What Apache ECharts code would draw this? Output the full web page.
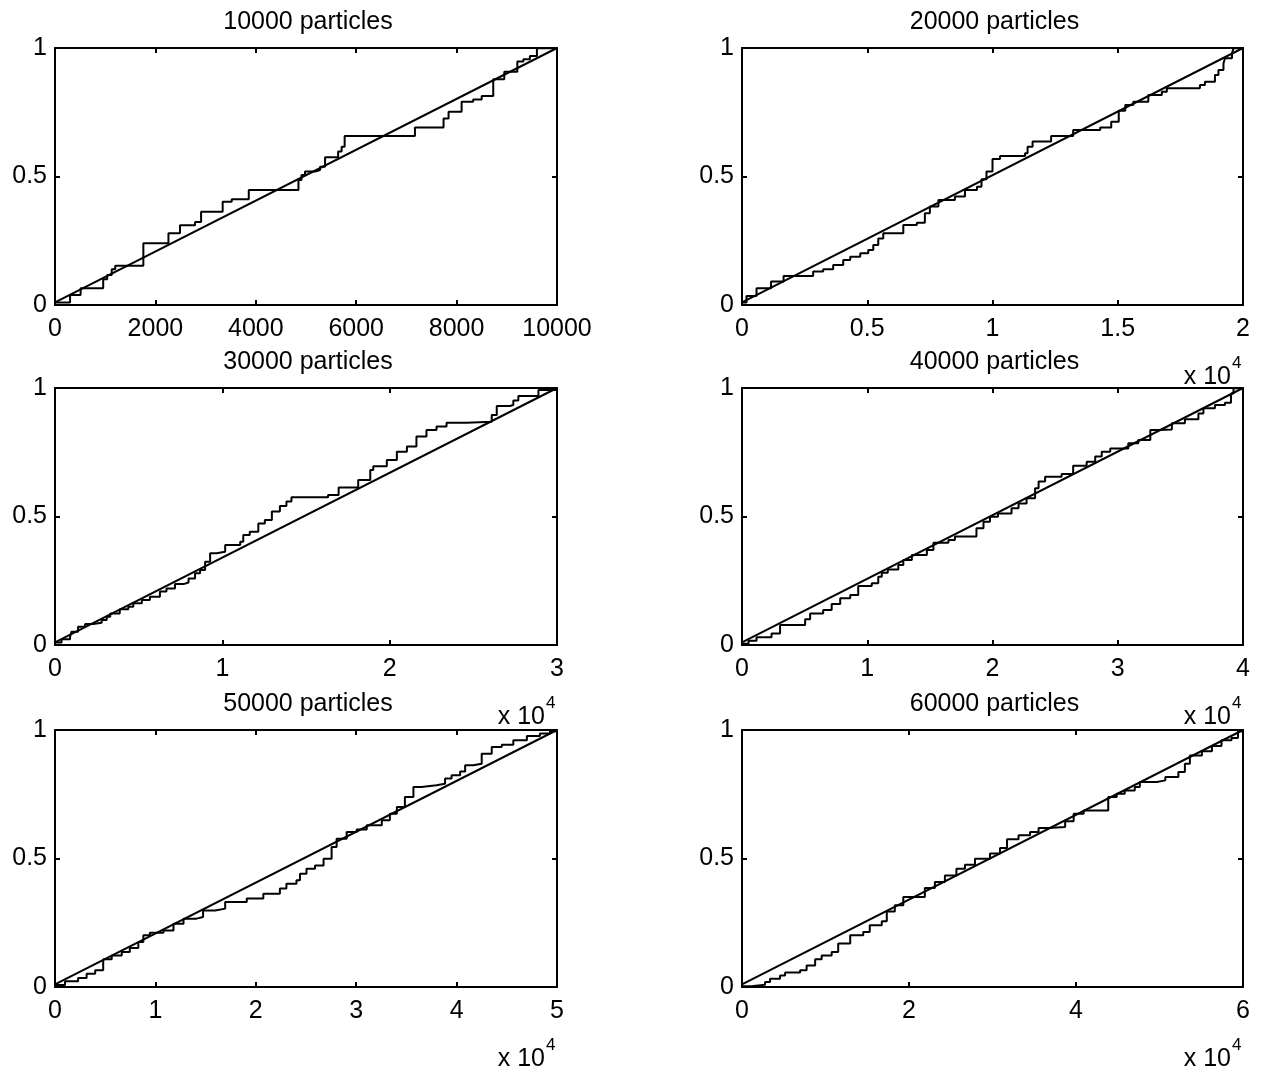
<!DOCTYPE html>
<html>
<head>
<meta charset="utf-8">
<script src="https://cdn.jsdelivr.net/npm/echarts@6/dist/echarts.min.js"></script>
<style>
html,body{margin:0;padding:0;background:#fff;}
#chart{width:1266px;height:1079px;}
</style>
</head>
<body>
<div id="chart"></div>
<script>
// ---- data ----
const panelN = [10000, 20000, 30000, 40000, 50000, 60000];
const titles = ['10000 particles', '20000 particles', '30000 particles', '40000 particles', '50000 particles', '60000 particles'];
const xTickStep = [2000, 5000, 10000, 10000, 10000, 20000];
const xLabelDivisor = [1, 10000, 10000, 10000, 10000, 10000];
const yTicks = [0, 0.5, 1];
const diagStartY = 0.01;

const p1X = [0, 300, 510, 960, 1040, 1130, 1200, 1760, 2260, 2490, 2790, 2910, 3340, 3520, 3860, 4850, 4910, 4980, 5180, 5280, 5380, 5640, 5710, 5770, 7170, 7740, 7840, 8100, 8330, 8500, 8730, 8950, 9210, 9330, 9460, 9600, 10000];
const p1Y = [0.01, 0.039, 0.065, 0.100, 0.117, 0.139, 0.153, 0.240, 0.279, 0.310, 0.323, 0.363, 0.402, 0.411, 0.447, 0.486, 0.506, 0.519, 0.525, 0.538, 0.575, 0.597, 0.616, 0.658, 0.691, 0.726, 0.752, 0.791, 0.800, 0.813, 0.878, 0.908, 0.947, 0.956, 0.969, 0.999, 1.0];

const p2X = [0, 180, 580, 1160, 1660, 2840, 3240, 3640, 4040, 4320, 4720, 5040, 5240, 5440, 5640, 6440, 6980, 7300, 7500, 7840, 8500, 8900, 9380, 9560, 9760, 10000, 10300, 11300, 11400, 11600, 12340, 13220, 14300, 14740, 15040, 15300, 15620, 16220, 16760, 16960, 18280, 18480, 18880, 19020, 19220, 19280, 19560, 19620, 20000];
const p2Y = [0.01, 0.035, 0.065, 0.091, 0.113, 0.130, 0.139, 0.156, 0.175, 0.188, 0.201, 0.214, 0.233, 0.259, 0.279, 0.311, 0.320, 0.357, 0.383, 0.409, 0.422, 0.447, 0.460, 0.489, 0.519, 0.568, 0.580, 0.590, 0.616, 0.636, 0.658, 0.681, 0.691, 0.713, 0.756, 0.778, 0.791, 0.817, 0.830, 0.843, 0.856, 0.869, 0.895, 0.914, 0.940, 0.960, 0.979, 0.999, 1.0];

const p3X = [0, 390, 900, 990, 1380, 1800, 2280, 2790, 3090, 3300, 3870, 4380, 4680, 5190, 5670, 6270, 6660, 7170, 7680, 7980, 8370, 8670, 8970, 9270, 9660, 10170, 11070, 11250, 11640, 12150, 12540, 12960, 13440, 13830, 14130, 16320, 16950, 18120, 18840, 19020, 19830, 20430, 21030, 21600, 22200, 22800, 23400, 24600, 26100, 26400, 27180, 27390, 27690, 28890, 30000];
const p3Y = [0.01, 0.022, 0.032, 0.052, 0.071, 0.082, 0.087, 0.097, 0.110, 0.123, 0.139, 0.149, 0.162, 0.175, 0.188, 0.208, 0.220, 0.237, 0.243, 0.259, 0.279, 0.292, 0.324, 0.357, 0.363, 0.389, 0.402, 0.428, 0.441, 0.473, 0.486, 0.519, 0.541, 0.558, 0.575, 0.584, 0.613, 0.642, 0.681, 0.696, 0.720, 0.752, 0.772, 0.811, 0.837, 0.850, 0.865, 0.869, 0.895, 0.930, 0.934, 0.951, 0.969, 0.992, 1.0];

const p4X = [0, 520, 1160, 2360, 3040, 5040, 5440, 6480, 7160, 7840, 8640, 9280, 10360, 10880, 11160, 11640, 12480, 12880, 13560, 14760, 15280, 16480, 17000, 18720, 19280, 19800, 20440, 21520, 22080, 22720, 23400, 23680, 24200, 25520, 26440, 27520, 28200, 28720, 29400, 30840, 31640, 32600, 33240, 34320, 35360, 36440, 36840, 37760, 38560, 39040, 39240, 40000];
const p4Y = [0.005, 0.017, 0.030, 0.045, 0.078, 0.100, 0.123, 0.136, 0.160, 0.182, 0.195, 0.230, 0.240, 0.266, 0.281, 0.294, 0.311, 0.331, 0.350, 0.370, 0.398, 0.409, 0.422, 0.454, 0.480, 0.499, 0.512, 0.532, 0.551, 0.571, 0.610, 0.636, 0.655, 0.665, 0.697, 0.713, 0.733, 0.752, 0.765, 0.785, 0.798, 0.837, 0.839, 0.863, 0.878, 0.901, 0.921, 0.934, 0.943, 0.979, 0.999, 1.0];

const p5X = [0, 1000, 2300, 3150, 4000, 4800, 5650, 6650, 7450, 8300, 8800, 9450, 10800, 11800, 12800, 14100, 14750, 15950, 16950, 19100, 20750, 22400, 23050, 24050, 24400, 25050, 25900, 26750, 27550, 28050, 29050, 30050, 31050, 32550, 33350, 34050, 34850, 35700, 36500, 38000, 38850, 39500, 40350, 40850, 41650, 42500, 43500, 44500, 45650, 47000, 48300, 49300, 50000];
const p5Y = [0.008, 0.022, 0.035, 0.052, 0.065, 0.108, 0.123, 0.136, 0.152, 0.175, 0.201, 0.211, 0.220, 0.246, 0.266, 0.272, 0.298, 0.305, 0.331, 0.344, 0.363, 0.383, 0.402, 0.415, 0.441, 0.460, 0.473, 0.499, 0.545, 0.577, 0.603, 0.613, 0.629, 0.649, 0.674, 0.700, 0.739, 0.778, 0.785, 0.791, 0.811, 0.824, 0.839, 0.863, 0.869, 0.908, 0.934, 0.943, 0.960, 0.977, 0.986, 0.995, 1.0];

const p6X = [0, 1140, 2760, 3360, 4560, 5160, 6960, 7740, 8760, 9540, 10740, 11520, 12960, 14520, 15300, 16740, 17340, 18300, 19320, 21900, 23100, 24300, 25680, 26700, 27900, 29700, 30900, 31740, 33120, 34500, 35520, 36720, 38700, 39720, 40920, 43860, 44880, 45840, 47040, 47640, 49680, 50700, 52260, 53040, 53640, 55080, 56280, 57420, 58620, 59400, 60000];
const p6Y = [0.003, 0.009, 0.019, 0.032, 0.045, 0.056, 0.065, 0.084, 0.108, 0.123, 0.136, 0.169, 0.201, 0.214, 0.240, 0.256, 0.294, 0.318, 0.350, 0.385, 0.409, 0.434, 0.460, 0.476, 0.499, 0.519, 0.541, 0.575, 0.590, 0.603, 0.619, 0.623, 0.645, 0.674, 0.687, 0.739, 0.752, 0.765, 0.778, 0.798, 0.804, 0.817, 0.837, 0.869, 0.901, 0.917, 0.938, 0.960, 0.969, 0.995, 1.0];

const stepX = [p1X, p2X, p3X, p4X, p5X, p6X];
const stepY = [p1Y, p2Y, p3Y, p4Y, p5Y, p6Y];

// ---- layout ----
const FONT = 'Liberation Sans, Arial, Helvetica, sans-serif';
const FS = 25;
const colLeft = [55, 742];
const colWidth = [502, 501];
const rowTop = [48, 388, 730];
const rowHeight = 257;

const grids = [], xAxes = [], yAxes = [], series = [], titleList = [], graphics = [];
const axisLineStyle = {color: '#000', width: 2};

for (let i = 0; i < 6; i++) {
  const c = i % 2, r = Math.floor(i / 2);
  grids.push({left: colLeft[c], top: rowTop[r], width: colWidth[c], height: rowHeight, containLabel: false});
  titleList.push({
    text: titles[i],
    left: colLeft[c] + colWidth[c] / 2 - 3,
    top: rowTop[r] - 43,
    textAlign: 'center',
    textStyle: {fontFamily: FONT, fontSize: FS, fontWeight: 'normal', color: '#000'}
  });
}
for (let i = 0; i < 6; i++) {
  const div = xLabelDivisor[i];
  xAxes.push({
    type: 'value', gridIndex: i, position: 'bottom', min: 0, max: panelN[i], interval: xTickStep[i],
    axisLine: {show: true, onZero: false, lineStyle: axisLineStyle},
    axisTick: {show: true, inside: true, length: 5, lineStyle: axisLineStyle},
    splitLine: {show: false},
    axisLabel: {show: true, margin: 12, color: '#000', fontFamily: FONT, fontSize: FS,
      formatter: v => String(+(v / div).toFixed(4))}
  });
}
for (let i = 0; i < 6; i++) {
  xAxes.push({
    type: 'value', gridIndex: i, position: 'top', min: 0, max: panelN[i], interval: xTickStep[i],
    axisLine: {show: true, onZero: false, lineStyle: axisLineStyle},
    axisTick: {show: true, inside: true, length: 5, lineStyle: axisLineStyle},
    splitLine: {show: false}, axisLabel: {show: false}
  });
}
for (let i = 0; i < 6; i++) {
  yAxes.push({
    type: 'value', gridIndex: i, position: 'left', min: yTicks[0], max: yTicks[yTicks.length - 1], interval: yTicks[1] - yTicks[0],
    axisLine: {show: true, onZero: false, lineStyle: axisLineStyle},
    axisTick: {show: true, inside: true, length: 5, lineStyle: axisLineStyle},
    splitLine: {show: false},
    axisLabel: {show: true, margin: 8, color: '#000', fontFamily: FONT, fontSize: FS,
      formatter: v => String(v)}
  });
}
for (let i = 0; i < 6; i++) {
  yAxes.push({
    type: 'value', gridIndex: i, position: 'right', min: 0, max: 1, interval: 0.5,
    axisLine: {show: true, onZero: false, lineStyle: axisLineStyle},
    axisTick: {show: true, inside: true, length: 5, lineStyle: axisLineStyle},
    splitLine: {show: false}, axisLabel: {show: false}
  });
}
for (let i = 0; i < 6; i++) {
  series.push({
    type: 'line', xAxisIndex: i, yAxisIndex: i, symbol: 'none', silent: true,
    lineStyle: {color: '#000', width: 2},
    data: [[0, diagStartY], [panelN[i], 1]]
  });
  series.push({
    type: 'line', xAxisIndex: i, yAxisIndex: i, symbol: 'none', silent: true, step: 'end',
    lineStyle: {color: '#000', width: 2},
    data: stepX[i].map((x, k) => [x, stepY[i][k]])
  });
}
// "x 10^4" exponent labels for panels 2..6
for (let i = 1; i < 6; i++) {
  const c = i % 2, r = Math.floor(i / 2);
  const rightX = colLeft[c] + colWidth[c];
  const baseY = rowTop[r] + rowHeight + 74;
  graphics.push({type: 'text', right: 1266 - rightX + 12, top: baseY - 14,
    style: {text: 'x 10', font: FS + 'px ' + FONT, fill: '#000'}});
  graphics.push({type: 'text', left: rightX - 11, top: baseY - 24,
    style: {text: '4', font: '17px ' + FONT, fill: '#000'}});
}

const chart = echarts.init(document.getElementById('chart'), null, {renderer: 'canvas'});
chart.setOption({
  animation: false,
  backgroundColor: '#fff',
  title: titleList,
  grid: grids,
  xAxis: xAxes,
  yAxis: yAxes,
  series: series,
  graphic: graphics
});
</script>
</body>
</html>
